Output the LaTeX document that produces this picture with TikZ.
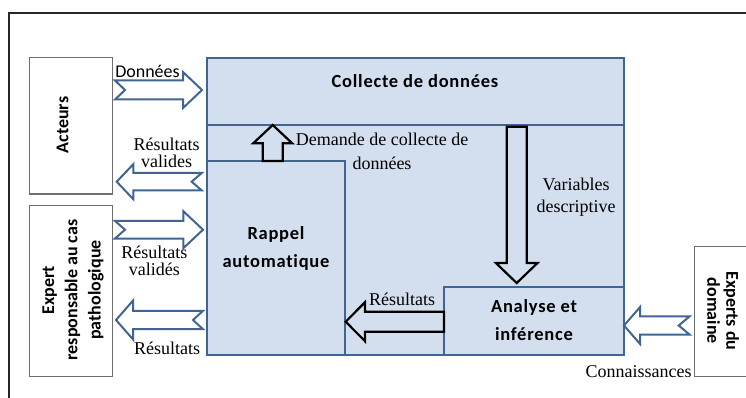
\documentclass[tikz,border=0pt]{standalone}
\usepackage{fontspec}
\setmainfont{Liberation Serif}
\newfontfamily\calibri{Carlito}
\newfontfamily\calibrisp[LetterSpace=4, Ligatures=NoCommon]{Carlito}
\usetikzlibrary{calc}
\definecolor{boxfill}{RGB}{211,223,238}
\definecolor{boxline}{RGB}{65,101,146}
\definecolor{grayline}{RGB}{110,110,110}
\definecolor{frameline}{RGB}{40,40,40}
\tikzset{
 bluebox/.style={draw=boxline, fill=boxfill, line width=2pt, inner sep=0pt, outer sep=0pt, anchor=north west},
 graybox/.style={draw=grayline, fill=white, line width=1.3pt, inner sep=0pt, outer sep=0pt, anchor=north west},
 blueflow/.style={draw=boxline, fill=white, line width=2pt, line join=miter},
 blackflow/.style={draw=black, fill=boxfill, line width=2.2pt, line join=miter},
 boldlbl/.style={font=\calibrisp\bfseries\fontsize{18.5}{27.5}\selectfont, align=center, inner sep=0pt},
 sidelbl/.style={font=\calibri\bfseries\fontsize{18}{23.3}\selectfont, align=center, inner sep=0pt},
 serlbl/.style={font=\fontsize{18}{17}\selectfont, align=center, inner sep=0pt},
}
% right-pointing block arrow: tail, tip, body half, head half, head length, notch
\newcommand{\rarrow}[7]{%
 \draw[#1] let \p1=(#2), \p2=(#3) in (\x1,\y1+#4) -- (\x2-#6,\y1+#4) -- (\x2-#6,\y1+#5) -- (\x2,\y1) -- (\x2-#6,\y1-#5) -- (\x2-#6,\y1-#4) -- (\x1,\y1-#4) -- (\x1+#7,\y1) -- cycle;}
\newcommand{\larrow}[7]{%
 \draw[#1] let \p1=(#2), \p2=(#3) in (\x1,\y1+#4) -- (\x2+#6,\y1+#4) -- (\x2+#6,\y1+#5) -- (\x2,\y1) -- (\x2+#6,\y1-#5) -- (\x2+#6,\y1-#4) -- (\x1,\y1-#4) -- (\x1-#7,\y1) -- cycle;}
\newcommand{\uarrow}[6]{%
 \draw[#1] let \p1=(#2), \p2=(#3) in (\x1-#4,\y1) -- (\x1-#4,\y2-#6) -- (\x1-#5,\y2-#6) -- (\x1,\y2) -- (\x1+#5,\y2-#6) -- (\x1+#4,\y2-#6) -- (\x1+#4,\y1) -- cycle;}
\newcommand{\darrow}[6]{%
 \draw[#1] let \p1=(#2), \p2=(#3) in (\x1-#4,\y1) -- (\x1-#4,\y2+#6) -- (\x1-#5,\y2+#6) -- (\x1,\y2) -- (\x1+#5,\y2+#6) -- (\x1+#4,\y2+#6) -- (\x1+#4,\y1) -- cycle;}
\begin{document}
\begin{tikzpicture}[x=1pt,y=-1pt]
\clip (0,0) rectangle (746,398);
\fill[white] (0,0) rectangle (746,398);
% frame
\draw[frameline, line width=1.6pt] (9,398) -- (9,13) -- (746,13);
% boxes
\node[bluebox, minimum width=417pt, minimum height=297pt] (main) at (207,58) {};
\coordinate (divL) at (main.west|-0,125);
\coordinate (divR) at (main.east|-0,125);
\draw[boxline, line width=2pt] (divL) -- (divR);
\node[bluebox, minimum width=138pt, minimum height=194pt] (rappel) at (207,161) {};
\node[bluebox, minimum width=180pt, minimum height=68pt] (analyse) at (444,287) {};
\node[graybox, minimum width=83pt, minimum height=136.3pt] (acteurs) at (29.5,57.7) {};
\node[graybox, minimum width=83pt, minimum height=171pt] (expert) at (29.5,205.3) {};
\node[graybox, minimum width=60pt, minimum height=130pt] (domaine) at (694.7,246.3) {};
% box labels
\node[boldlbl, anchor=base] (tcol) at (415,87.5) {Collecte de données};
\node[boldlbl] (trap) at (276,248.6) {Rappel\\automatique};
\node[boldlbl] (tana) at (534,320.2) {Analyse et\\inférence};
\node[sidelbl, rotate=90, anchor=base] (tact) at (68.3,125) {Acteurs};
\node[sidelbl, rotate=90] (texp) at (73,290) {Expert\\responsable au cas\\pathologique};
\node[sidelbl, rotate=-90, font=\calibri\bfseries\fontsize{18}{19}\selectfont] (tdom) at (723,311) {Experts du\\domaine};
% blue flow arrows
\rarrow{blueflow}{$(acteurs.east|-0,90)+(2.5,0)$}{$(main.west|-0,90)+(-5,0)$}{9.5pt}{18pt}{19pt}{10pt}
\larrow{blueflow}{$(main.west|-0,181.7)+(-5.3,0)$}{$(acteurs.east|-0,181.7)+(4.2,0)$}{8.7pt}{17.5pt}{16.6pt}{10pt}
\rarrow{blueflow}{$(expert.east|-0,229.7)+(2.5,0)$}{$(rappel.west|-0,229.7)+(-4,0)$}{8.8pt}{18.5pt}{19.7pt}{10pt}
\larrow{blueflow}{$(rappel.west|-0,320)+(-4,0)$}{$(expert.east|-0,320)+(3.5,0)$}{9.2pt}{19.4pt}{17pt}{10pt}
\larrow{blueflow}{$(domaine.west|-0,325.5)+(-5,0)$}{analyse.east|-0,325.5}{9.2pt}{18.4pt}{16pt}{11pt}
% black flow arrows
\uarrow{blackflow}{rappel.north-|272.7,0}{divL-|272.7,0}{10pt}{19.5pt}{18.3pt}
\darrow{blackflow}{$(divL-|516.7,0)+(0,1.7)$}{$(analyse.north-|516.7,0)+(0,-4)$}{10pt}{20.8pt}{20pt}
\larrow{blackflow}{analyse.west|-0,321.7}{$(rappel.east|-0,321.7)+(0.7,0)$}{10pt}{19.5pt}{19.3pt}{0pt}
% flow labels
\node[font=\calibri\fontsize{18}{20}\selectfont, inner sep=0pt, anchor=base] (ldon) at (147.5,77.5) {Données};
\node[serlbl] (lrv) at (166.7,152.4) {Résultats\\valides};
\node[serlbl, font=\fontsize{18}{23.3}\selectfont] (ldem) at (382,151.2) {Demande de collecte de\\données};
\node[serlbl, font=\fontsize{18}{22}\selectfont] (lvar) at (576,196.8) {Variables\\descriptive};
\node[serlbl] (lrvd) at (154.3,260.8) {Résultats\\validés};
\node[serlbl, anchor=base] (lres) at (167,354) {Résultats};
\node[serlbl, anchor=base] (lres2) at (402,305) {Résultats};
\node[serlbl, anchor=base] (lcon) at (638.5,377.3) {Connaissances};
\end{tikzpicture}
\end{document}
